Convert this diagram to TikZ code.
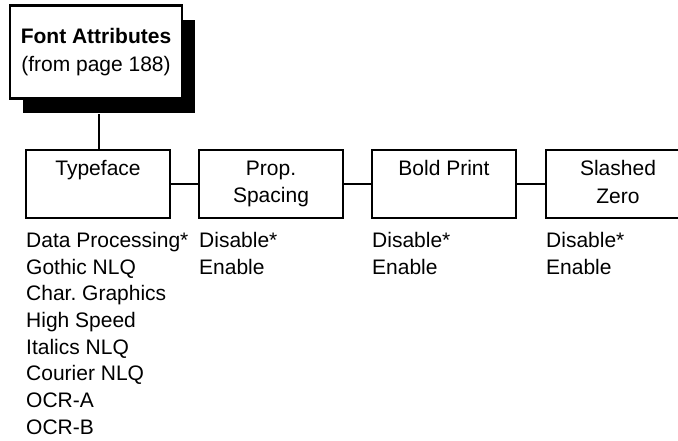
\documentclass[tikz,border=0pt]{standalone}
\usepackage{fontspec}
\setmainfont{Liberation Sans}
\usetikzlibrary{shadows}
\frenchspacing
\begin{document}
\begin{tikzpicture}[x=1pt,y=-1pt,
  every node/.style={font=\fontsize{21}{27.5}\selectfont},
  menubox/.style={draw, line width=2.3pt, minimum width=144pt, minimum height=68pt, align=center, inner sep=0pt},
  optlist/.style={anchor=north west, align=left, inner sep=0pt, font=\fontsize{21}{26.7}\selectfont},
  conn/.style={line width=2.3pt}]
\clip (0,0) rectangle (678,440);
\node[menubox, fill=white, minimum width=172pt, minimum height=93pt,
  font=\fontsize{21}{28.5}\selectfont,
  drop shadow={shadow xshift=13pt, shadow yshift=-14pt, fill=black, opacity=1}]
  (top) at (96,52) {\textbf{Font Attributes}\\(from page 188)};
\node[menubox] (type) at (98,184) {Typeface\\\phantom{g}};
\node[menubox] (prop) at (271,184) {Prop.\\Spacing};
\node[menubox] (bold) at (444,184) {Bold Print\\\phantom{g}};
\node[menubox] (slash) at (618,184) {Slashed\\Zero\vphantom{g}};
\coordinate (topfoot) at (99,114);
\draw[conn] (topfoot) -- (topfoot |- type.north);
\draw[conn] (type.east) -- (prop.west);
\draw[conn] (prop.east) -- (bold.west);
\draw[conn] (bold.east) -- (slash.west);
\node[optlist] (typeopts) at (26,232) {Data Processing*\\Gothic NLQ\\Char. Graphics\\High Speed\\Italics NLQ\\Courier NLQ\\OCR-A\\OCR-B};
\node[optlist] (propopts) at (199,232) {Disable*\\Enable};
\node[optlist] (boldopts) at (372,232) {Disable*\\Enable};
\node[optlist] (slashopts) at (546,232) {Disable*\\Enable};
\end{tikzpicture}
\end{document}
